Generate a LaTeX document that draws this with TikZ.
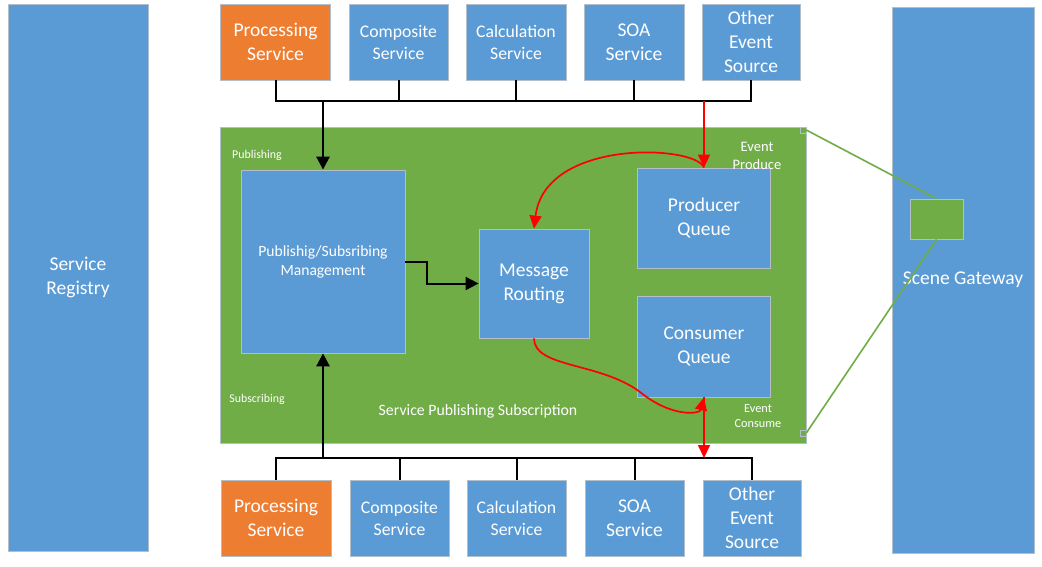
\documentclass[tikz,border=0pt]{standalone}
\usepackage{fontspec}
\setmainfont{Carlito}
\usetikzlibrary{arrows.meta}
\definecolor{blueC}{RGB}{91,155,213}
\definecolor{orangeC}{RGB}{237,125,49}
\definecolor{greenC}{RGB}{112,173,71}
\definecolor{edgeC}{RGB}{178,190,202}
\tikzset{
  box/.style={draw=edgeC,fill=blueC,text=white,align=center,inner sep=0pt,line width=0.8pt,
    font=\fontsize{19.5}{24}\selectfont},
  srv/.style={box,minimum height=76pt},
  srvsmall/.style={srv,font=\fontsize{17.7}{22}\selectfont},
  srvorange/.style={srv,fill=orangeC},
  handle/.style={draw=edgeC,fill=greenC,minimum size=6pt,inner sep=0pt,line width=0.6pt},
  lbl/.style={text=white,align=center,inner sep=0pt},
  bus/.style={draw=black,line width=2pt},
  blk/.style={draw=black,line width=2.6pt,-{Triangle[length=13pt,width=13pt]}},
  redarrow/.style={draw=red,line width=1.7pt,-{Triangle[length=13pt,width=12pt]}},
  gline/.style={draw=greenC,line width=1.6pt}
}

\begin{document}
\begin{tikzpicture}[x=1pt,y=-1pt]
    \path[fill=white,use as bounding box] (0,0) rectangle (1042,567);

    \node[box,minimum width=140pt,minimum height=547pt] (registry) at (78,277.5) {Service\\Registry};
    \node[box,minimum width=142pt,minimum height=546pt] (gateway) at (963,280) {Scene Gateway};
    \node[box,fill=greenC,minimum width=53pt,minimum height=40pt] (gw) at (936.5,219) {};

    \node[box,fill=greenC,minimum width=586pt,minimum height=316pt] (sps) at (513,285) {};
    \node[handle] (hT) at (803,130) {};
    \node[handle] (hB) at (803,433) {};

    \node[srvorange,minimum width=110pt] (procT) at (275.5,42) {Processing\\Service};
    \node[srvsmall,minimum width=99pt] (compT) at (398.5,42) {Composite\\Service};
    \node[srvsmall,minimum width=100pt] (calcT) at (516,42) {Calculation\\Service};
    \node[srv,minimum width=100pt] (soaT) at (634,42) {SOA\\Service};
    \node[srv,minimum width=98pt] (otherT) at (751,42) {Other\\Event\\Source};

    \node[srvorange,minimum width=110pt] (procB) at (276,518) {Processing\\Service};
    \node[srvsmall,minimum width=99pt] (compB) at (399.5,518) {Composite\\Service};
    \node[srvsmall,minimum width=99pt] (calcB) at (516.5,518) {Calculation\\Service};
    \node[srv,minimum width=99pt] (soaB) at (634.5,518) {SOA\\Service};
    \node[srv,minimum width=98pt] (otherB) at (752,518) {Other\\Event\\Source};

    \node[box,minimum width=164pt,minimum height=183pt,font=\fontsize{15.6}{19}\selectfont] (pubsub) at (323,261.5) {Publishig/Subsribing\\Management};
    \node[box,minimum width=110pt,minimum height=109pt] (route) at (534,283.5) {Message\\Routing};
    \node[box,minimum width=133pt,minimum height=100pt] (prodQ) at (704,218) {Producer\\Queue};
    \node[box,minimum width=133pt,minimum height=101pt] (consQ) at (704,346.5) {Consumer\\Queue};

    \node[lbl,font=\fontsize{11.9}{14}\selectfont] (publbl) at (257,155) {Publishing};
    \node[lbl,font=\fontsize{11.9}{14}\selectfont] (sublbl) at (257,399) {Subscribing};
    \node[lbl,font=\fontsize{15.8}{19}\selectfont] (spslbl) at (478,411) {Service Publishing Subscription};
    \node[lbl,font=\fontsize{14.5}{18}\selectfont] (prodlbl) at (757,156) {Event\\Produce};
    \node[lbl,font=\fontsize{12.3}{15}\selectfont] (conslbl) at (758,416.5) {Event\\Consume};

    \coordinate (busT) at (0,101);
    \coordinate (busB) at (0,458);

    \draw[bus] (procT.south) -- (procT.south |- busT) -- (otherT.south |- busT) -- (otherT.south);
    \draw[bus] (compT.south) -- (compT.south |- busT);
    \draw[bus] (calcT.south) -- (calcT.south |- busT);
    \draw[bus] (soaT.south) -- (soaT.south |- busT);
    \draw[bus] (procB.north) -- (procB.north |- busB) -- (otherB.north |- busB) -- (otherB.north);
    \draw[bus] (compB.north) -- (compB.north |- busB);
    \draw[bus] (calcB.north) -- (calcB.north |- busB);
    \draw[bus] (soaB.north) -- (soaB.north |- busB);

    \draw[blk] (pubsub.north |- busT) -- (pubsub.north);
    \draw[blk] (pubsub.south |- busB) -- (pubsub.south);
    \draw[blk,line width=2pt] (pubsub.east) -- ++(22,0) |- (route.west);

    \draw[redarrow] (prodQ.north |- busT) -- (prodQ.north);
    \draw[redarrow] (prodQ.north) .. controls (696,145) and (545,138) .. (route.north);
    \draw[redarrow] (route.south) .. controls (534,368) and (600,362) .. (640,392)
        .. controls (672,418) and (700,414) .. (consQ.south);
    \draw[redarrow] (consQ.south) -- (consQ.south |- busB);

    \draw[gline] (hT.east) -- (gw.north);
    \draw[gline] (hB.east) -- (gw.south);
\end{tikzpicture}
\end{document}
